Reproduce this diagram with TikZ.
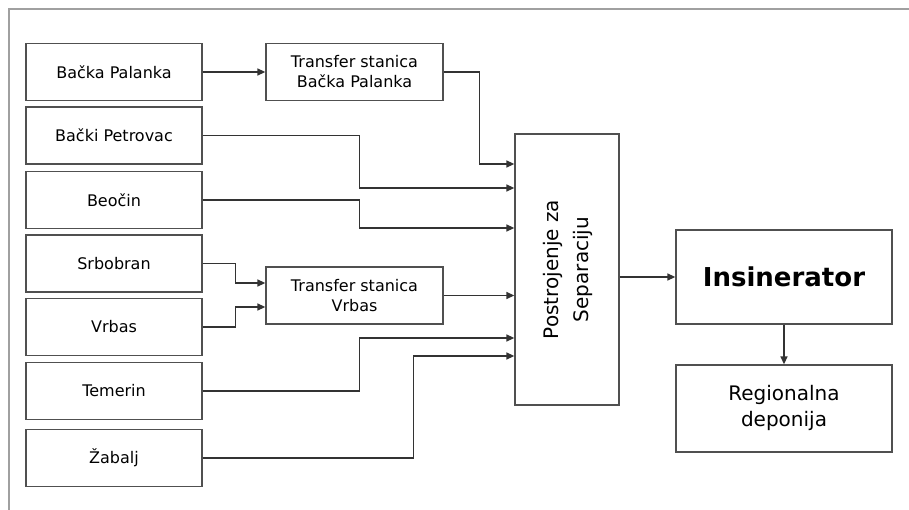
\documentclass[tikz,border=0pt]{standalone}
\usepackage{fontspec}
\setmainfont{DejaVu Sans}
\usepackage{graphicx}
\usetikzlibrary{arrows.meta, positioning}
\definecolor{boxgray}{RGB}{80,80,80}
\definecolor{framegray}{RGB}{160,160,160}

\begin{document}
\begin{tikzpicture}[x=1pt, y=-1pt,
    opstina/.style ={rectangle, draw=boxgray, line width=1.3pt,
                     minimum width=176pt, minimum height=57pt,
                     align=center, inner sep=2pt,
                     font=\fontsize{16}{20}\selectfont},
    transfer/.style={rectangle, draw=boxgray, line width=1.3pt,
                     minimum width=177pt, minimum height=57pt,
                     align=center, inner sep=2pt,
                     font=\fontsize{16}{20}\selectfont},
    sepbox/.style  ={rectangle, draw=boxgray, line width=1.3pt,
                     minimum width=104pt, minimum height=271pt,
                     inner sep=0pt, font=\fontsize{20}{30}\selectfont},
    insbox/.style  ={rectangle, draw=boxgray, line width=1.3pt,
                     minimum width=216pt, minimum height=94pt,
                     font=\fontsize{26}{30}\selectfont\bfseries},
    regbox/.style  ={rectangle, draw=boxgray, line width=1.3pt,
                     minimum width=216pt, minimum height=87pt,
                     inner sep=0pt, font=\fontsize{20}{26}\selectfont},
    frame/.style   ={draw=framegray, line width=1.6pt},
    arrow/.style   ={-{Triangle[length=8pt,width=7pt]},
                     line width=1.4pt, black!80}
]
\useasboundingbox (0,0) rectangle (909,510);

% okvir (gore i levo)
\draw[frame] (9,510) -- (9,9) -- (909,9);

% ============================================================
% OPSTINE (levo)
% ============================================================

\node[opstina] (bp)  at (114, 72)    {Bačka Palanka};
\node[opstina] (bpe) at (114, 135.5) {Bački Petrovac};
\node[opstina] (beo) at (114, 200)   {Beočin};
\node[opstina] (srb) at (114, 263.5) {Srbobran};
\node[opstina] (vrb) at (114, 327)   {Vrbas};
\node[opstina] (tem) at (114, 391)   {Temerin};
\node[opstina] (zab) at (114, 458)   {Žabalj};

% ============================================================
% TRANSFER STANICE
% ============================================================

\node[transfer] (tbp) at (354.5, 72)    {Transfer stanica\\Bačka Palanka};
\node[transfer] (tv)  at (354.5, 295.5) {Transfer stanica\\Vrbas};

% ============================================================
% SEPARACIJA, INSINERATOR, DEPONIJA
% ============================================================

\node[sepbox] (sep) at (567, 269.5)
    {\rotatebox{90}{\begin{tabular}{@{}c@{}}Postrojenje za\\Separaciju\end{tabular}}};
\node[insbox] (ins) at (784, 277)   {Insinerator};
\node[regbox] (reg) at (784, 408.5)
    {\raisebox{7pt}{\begin{tabular}{@{}c@{}}Regionalna\\deponija\end{tabular}}};

% ============================================================
% STRELICE
% ============================================================

% opstine -> transfer stanice
\draw[arrow] (bp.east)  -- (tbp.west);
\draw[arrow] (srb.east) -- ++(33,0) |- (tv.west |- 0,283);
\draw[arrow] (vrb.east) -- ++(33,0) |- (tv.west |- 0,307);

% transfer stanice -> separacija
\draw[arrow] (tbp.east) -- ++(36,0) |- (sep.west |- 0,164);
\draw[arrow] (tv.east)  -- (tv.east -| sep.west);

% opstine -> separacija
\draw[arrow] (bpe.east) -- ++(157,0) |- (sep.west |- 0,188);
\draw[arrow] (beo.east) -- ++(157,0) |- (sep.west |- 0,228);
\draw[arrow] (tem.east) -- ++(157,0) |- (sep.west |- 0,338);
\draw[arrow] (zab.east) -- ++(211,0) |- (sep.west |- 0,356);

% separacija -> insinerator -> deponija
\draw[arrow] (sep.east |- ins.west) -- (ins.west);
\draw[arrow] (ins.south) -- (reg.north);

\end{tikzpicture}
\end{document}
